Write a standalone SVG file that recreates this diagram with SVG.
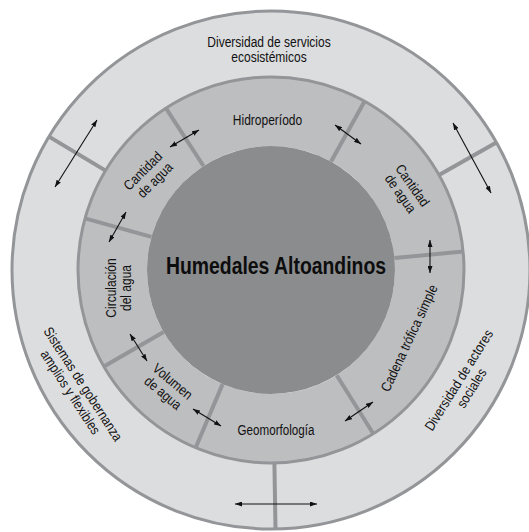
<svg xmlns="http://www.w3.org/2000/svg" width="529" height="532" viewBox="0 0 529 532">
<defs>
<style>
.t{font-family:"Liberation Sans",Arial,sans-serif;font-size:14px;fill:#111;text-anchor:middle}
.title{font-family:"Liberation Sans",Arial,sans-serif;font-size:23px;font-weight:bold;fill:#0d0d0d;text-anchor:middle}
.outer{fill:#dcdddf}
.mid{fill:#bdbec0}
.core{fill:#8a8c8e}
.div{stroke:#939598;stroke-width:4;fill:none}
.ring{stroke:#939598;stroke-width:3;fill:none}
.arr{stroke:#111;stroke-width:1.1;fill:none;marker-start:url(#ah);marker-end:url(#ah)}
</style>
<marker id="ah" viewBox="0 0 7 5" refX="7" refY="2.5" markerWidth="7" markerHeight="5" markerUnits="userSpaceOnUse" orient="auto-start-reverse"><path d="M0,0L7,2.5L0,5z" fill="#111"/></marker>
</defs>
<rect width="529" height="532" fill="#fff"/>

<!-- outer ring segments -->
<g id="servicios">
<path class="outer" d="M49,136.6A259,259 0 0 1 496.4,142.5L439,175A193,193 0 0 0 105.6,170.6Z"/>
<text class="t" x="269" y="46.5" textLength="123.4" lengthAdjust="spacingAndGlyphs">Diversidad de servicios</text>
<text class="t" x="269" y="61.5" textLength="75.4" lengthAdjust="spacingAndGlyphs">ecosistémicos</text>
</g>
<g id="actores">
<path class="outer" d="M496.4,142.5A259,259 0 0 1 275.5,529L274.4,463A193,193 0 0 0 439,175Z"/>
<g transform="translate(465,384) rotate(-58)">
<text class="t" x="0" y="-2.5" textLength="116" lengthAdjust="spacingAndGlyphs">Diversidad de actores</text>
<text class="t" x="0" y="12.5" textLength="43.3" lengthAdjust="spacingAndGlyphs">sociales</text>
</g>
</g>
<g id="gobernanza">
<path class="outer" d="M275.5,529A259,259 0 0 1 49,136.6L105.6,170.6A193,193 0 0 0 274.4,463Z"/>
<g transform="translate(77,388) rotate(57)">
<text class="t" x="0" y="-2.5" textLength="132.7" lengthAdjust="spacingAndGlyphs">Sistemas de gobernanza</text>
<text class="t" x="0" y="12.5" textLength="97.4" lengthAdjust="spacingAndGlyphs">amplios y flexibles</text>
</g>
</g>

<!-- middle ring segments -->
<g id="hidroperiodo">
<path class="mid" d="M165.9,108.1A193,193 0 0 1 364.6,101.2L331.1,161.5A124,124 0 0 0 203.5,166Z"/>
<text class="t" x="267.5" y="124.5" textLength="69.4" lengthAdjust="spacingAndGlyphs">Hidroperíodo</text>
</g>
<g id="cantidad-der">
<path class="mid" d="M364.6,101.2A193,193 0 0 1 463.1,251.5L394.4,258.1A124,124 0 0 0 331.1,161.5Z"/>
<g transform="translate(406.5,189.5) rotate(55)">
<text class="t" x="0" y="-2.5" textLength="48" lengthAdjust="spacingAndGlyphs">Cantidad</text>
<text class="t" x="0" y="12" textLength="43.4" lengthAdjust="spacingAndGlyphs">de agua</text>
</g>
</g>
<g id="cadena">
<path class="mid" d="M463.1,251.5A193,193 0 0 1 373.3,433.7L336.7,375.2A124,124 0 0 0 394.4,258.1Z"/>
<g transform="translate(409,338) rotate(-65)">
<text class="t" x="0" y="5" textLength="116" lengthAdjust="spacingAndGlyphs">Cadena trófica simple</text>
</g>
</g>
<g id="geomorfologia">
<path class="mid" d="M373.3,433.7A193,193 0 0 1 195.6,447.7L222.6,384.1A124,124 0 0 0 336.7,375.2Z"/>
<text class="t" x="276" y="434.5" textLength="77" lengthAdjust="spacingAndGlyphs">Geomorfología</text>
</g>
<g id="volumen">
<path class="mid" d="M195.6,447.7A193,193 0 0 1 103.9,366.5L163.6,332A124,124 0 0 0 222.6,384.1Z"/>
<g transform="translate(168,387) rotate(40)">
<text class="t" x="0" y="-2.5" textLength="47.4" lengthAdjust="spacingAndGlyphs">Volumen</text>
<text class="t" x="0" y="12.5" textLength="43.4" lengthAdjust="spacingAndGlyphs">de agua</text>
</g>
</g>
<g id="circulacion">
<path class="mid" d="M103.9,366.5A193,193 0 0 1 85,218.4L151.5,236.9A124,124 0 0 0 163.6,332Z"/>
<g transform="translate(118,288) rotate(-90)">
<text class="t" x="0" y="-2.5" textLength="59.3" lengthAdjust="spacingAndGlyphs">Circulación</text>
<text class="t" x="0" y="13" textLength="46" lengthAdjust="spacingAndGlyphs">del agua</text>
</g>
</g>
<g id="cantidad-izq">
<path class="mid" d="M85,218.4A193,193 0 0 1 165.9,108.1L203.5,166A124,124 0 0 0 151.5,236.9Z"/>
<g transform="translate(148,176) rotate(-45)">
<text class="t" x="0" y="-2.5" textLength="48" lengthAdjust="spacingAndGlyphs">Cantidad</text>
<text class="t" x="2" y="12.5" textLength="43.4" lengthAdjust="spacingAndGlyphs">de agua</text>
</g>
</g>

<!-- dividers and ring borders -->
<g id="dividers">
<line class="div" x1="49" y1="136.6" x2="105.6" y2="170.6"/>
<line class="div" x1="496.4" y1="142.5" x2="439" y2="175"/>
<line class="div" x1="275.5" y1="529" x2="274.4" y2="463"/>
<line class="div" x1="165.9" y1="108.1" x2="203.5" y2="166"/>
<line class="div" x1="364.6" y1="101.2" x2="331.1" y2="161.5"/>
<line class="div" x1="463.1" y1="251.5" x2="394.4" y2="258.1"/>
<line class="div" x1="373.3" y1="433.7" x2="336.7" y2="375.2"/>
<line class="div" x1="195.6" y1="447.7" x2="222.6" y2="384.1"/>
<line class="div" x1="103.9" y1="366.5" x2="163.6" y2="332"/>
<line class="div" x1="85" y1="218.4" x2="151.5" y2="236.9"/>
<circle class="ring" cx="271" cy="270" r="193"/>
<circle class="ring" cx="271" cy="270" r="259"/>
</g>

<g id="humedales">
<circle class="core" cx="271" cy="270" r="124"/>
<text class="title" x="276" y="273.5" textLength="220" lengthAdjust="spacingAndGlyphs">Humedales Altoandinos</text>
</g>

<!-- connectors -->
<g id="connectors">
<line class="arr" x1="97" y1="120" x2="55" y2="187"/>
<line class="arr" x1="453" y1="123" x2="491" y2="193"/>
<line class="arr" x1="235" y1="504" x2="317" y2="504"/>
<line class="arr" x1="170" y1="147" x2="199" y2="130"/>
<line class="arr" x1="335" y1="125" x2="361" y2="144"/>
<line class="arr" x1="430" y1="240" x2="430" y2="273"/>
<line class="arr" x1="126" y1="212" x2="109" y2="242"/>
<line class="arr" x1="130" y1="334" x2="147" y2="361"/>
<line class="arr" x1="193" y1="409" x2="221" y2="426"/>
<line class="arr" x1="345" y1="421" x2="373" y2="402"/>
</g>
</svg>
